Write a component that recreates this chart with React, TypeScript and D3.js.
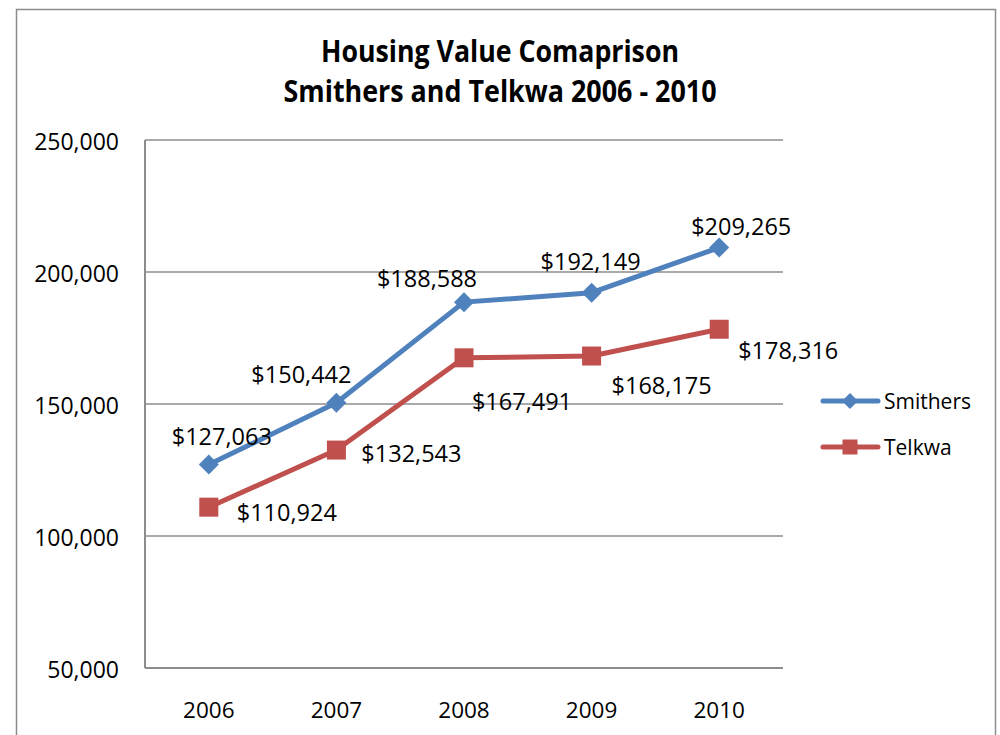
import React from 'react';
import * as d3 from 'd3';

// chart values
const years = ['2006', '2007', '2008', '2009', '2010'];
const smithers = [127063, 150442, 188588, 192149, 209265];
const telkwa = [110924, 132543, 167491, 168175, 178316];
const yTicks = [50000, 100000, 150000, 200000, 250000];
const seriesNames = ['Smithers', 'Telkwa'];

// label placement (offset from the point, px) as Excel put them
const smithersLabelOffsets = [[13, -28], [-35, -28], [-37, -24], [-1, -31], [22, -21]];
const telkwaLabelOffsets = [[78, 5], [75, 3], [58, 44], [70, 30], [69, 21]];

const W = 1000;
const H = 735;
const margin = { top: 140, right: 217, bottom: 67, left: 145 };
const FONT = "'Open Sans', 'Noto Sans', sans-serif";
const BLUE = '#4F81BD';
const RED = '#C0504D';
const GRID = '#8c8c8c';

const fmtTick = d3.format(',');
const fmtLabel = (v: number) => '$' + d3.format(',')(v);

const Diamond = ({ x, y, r, fill }: { x: number; y: number; r: number; fill: string }) => (
  <path d={`M${x},${y - r}L${x + r},${y}L${x},${y + r}L${x - r},${y}Z`} fill={fill} />
);

const Square = ({ x, y, s, fill }: { x: number; y: number; s: number; fill: string }) => (
  <rect x={x - s / 2} y={y - s / 2} width={s} height={s} fill={fill} />
);

export default function App() {
  const x0 = margin.left;
  const x1 = W - margin.right;
  const y0 = H - margin.bottom;
  const y1 = margin.top;

  const xScale = d3.scaleBand<string>().domain(years).range([x0, x1]).padding(0);
  const cx = (yr: string) => (xScale(yr) as number) + xScale.bandwidth() / 2;
  const yScale = d3.scaleLinear().domain([50000, 250000]).range([y0, y1]);

  const line = d3
    .line<number>()
    .x((_, i) => cx(years[i]))
    .y((d) => yScale(d));

  const series = [
    { name: seriesNames[0], values: smithers, color: BLUE, offsets: smithersLabelOffsets, marker: 'diamond' },
    { name: seriesNames[1], values: telkwa, color: RED, offsets: telkwaLabelOffsets, marker: 'square' },
  ];

  return (
    <svg
      width={W}
      height={H}
      style={{ position: 'absolute', left: 0, top: 0, background: '#fff' }}
      fontFamily={FONT}
    >
      <rect x={16.5} y={9.5} width={979} height={760} fill="#fff" stroke={GRID} strokeWidth={1.5} />

      {/* title */}
      <text x={500} y={62} textAnchor="middle" fontSize={30} fontWeight="bold" textLength={358} lengthAdjust="spacingAndGlyphs">
        Housing Value Comaprison
      </text>
      <text x={500} y={102} textAnchor="middle" fontSize={30} fontWeight="bold" textLength={433} lengthAdjust="spacingAndGlyphs">
        Smithers and Telkwa 2006 - 2010
      </text>

      {/* gridlines + y ticks */}
      {yTicks.map((t) => (
        <g key={t}>
          {t > 50000 && <line x1={x0} x2={x1} y1={yScale(t)} y2={yScale(t)} stroke={GRID} strokeWidth={1.5} />}
          <text x={119} y={yScale(t) + 2} dy="0.36em" textAnchor="end" fontSize={23}>
            {fmtTick(t)}
          </text>
        </g>
      ))}

      {/* axes */}
      <line x1={x0} x2={x0} y1={y1} y2={y0} stroke={GRID} strokeWidth={2} />
      <line x1={x0} x2={x1} y1={y0} y2={y0} stroke={GRID} strokeWidth={2} />

      {years.map((yr) => (
        <text key={yr} x={cx(yr)} y={710} dy="0.36em" textAnchor="middle" fontSize={22.5}>
          {yr}
        </text>
      ))}

      {/* series */}
      {series.map((s) => (
        <g key={s.name}>
          <path d={line(s.values) || ''} fill="none" stroke={s.color} strokeWidth={5} strokeLinejoin="round" />
          {s.values.map((v, i) =>
            s.marker === 'diamond' ? (
              <Diamond key={i} x={cx(years[i])} y={yScale(v)} r={10} fill={s.color} />
            ) : (
              <Square key={i} x={cx(years[i])} y={yScale(v)} s={19} fill={s.color} />
            )
          )}
          {s.values.map((v, i) => (
            <text
              key={'l' + i}
              x={cx(years[i]) + s.offsets[i][0]}
              y={yScale(v) + s.offsets[i][1]}
              dy="0.36em"
              textAnchor="middle"
              fontSize={23.5}
            >
              {fmtLabel(v)}
            </text>
          ))}
        </g>
      ))}

      {/* legend */}
      {series.map((s, i) => {
        const ly = 401 + i * 46;
        return (
          <g key={'lg' + s.name}>
            <line x1={823} x2={878} y1={ly} y2={ly} stroke={s.color} strokeWidth={5} strokeLinecap="round" />
            {s.marker === 'diamond' ? (
              <Diamond x={850} y={ly} r={8} fill={s.color} />
            ) : (
              <Square x={850} y={ly} s={15} fill={s.color} />
            )}
            <text x={884} y={ly} dy="0.36em" fontSize={21}>
              {s.name}
            </text>
          </g>
        );
      })}
    </svg>
  );
}
